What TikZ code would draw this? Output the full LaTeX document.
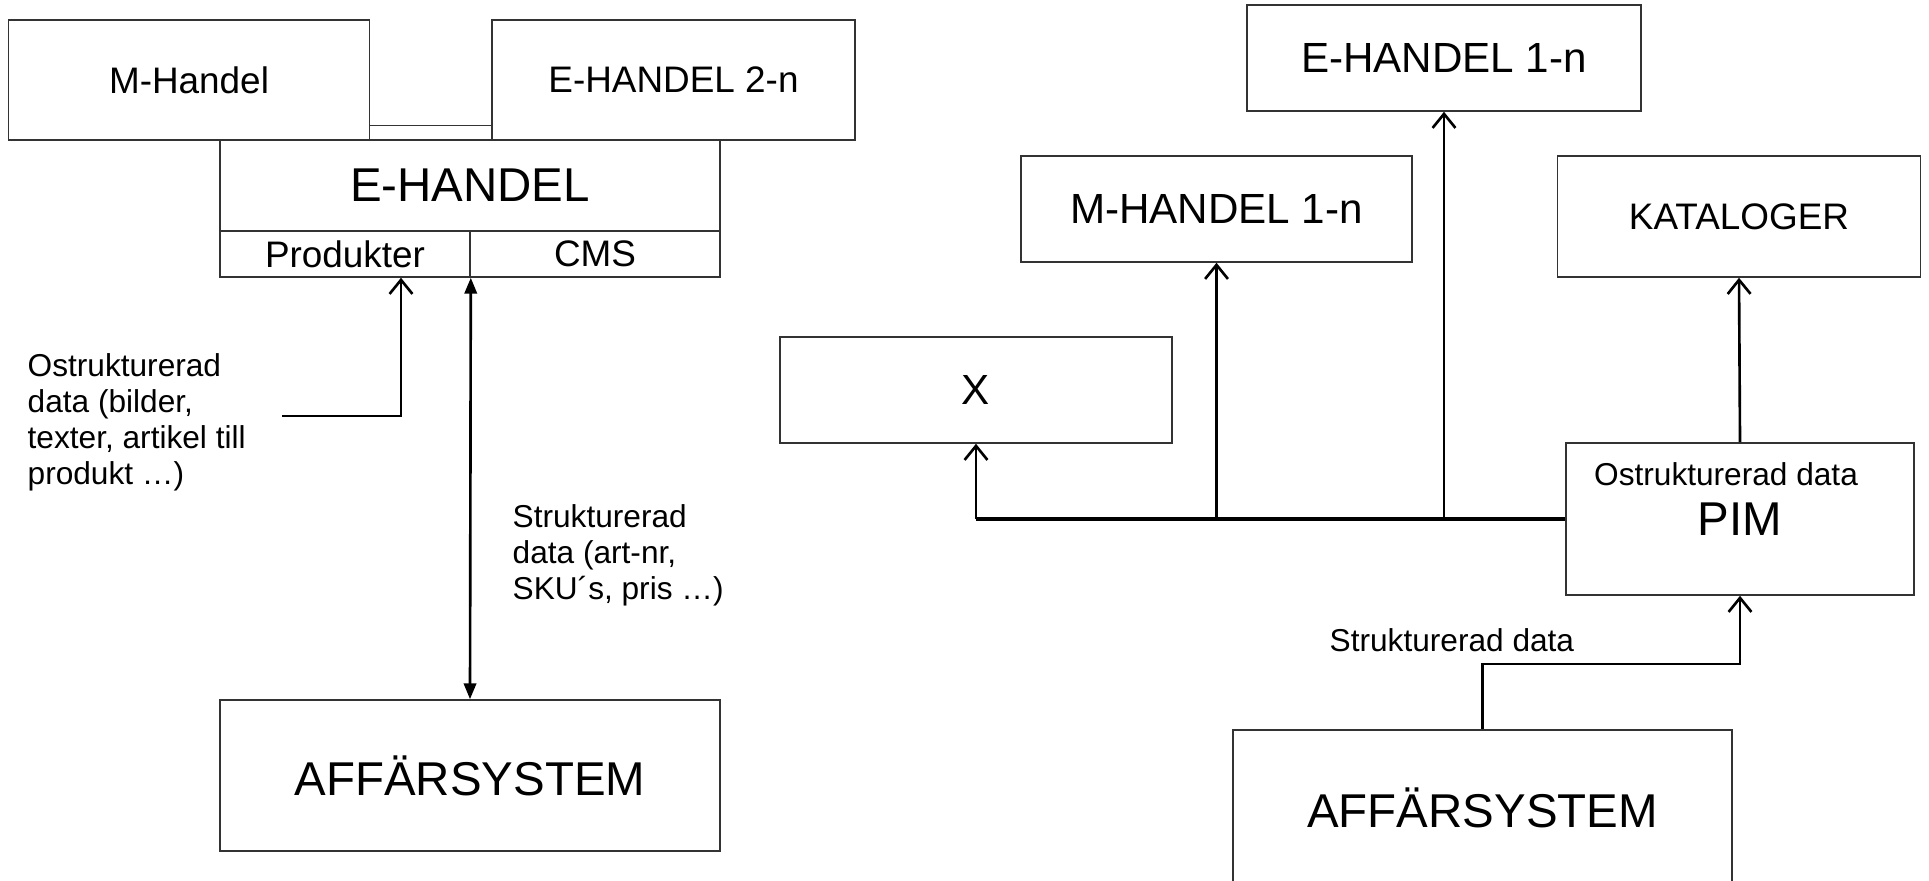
\documentclass[tikz,border=0pt]{standalone}
\usepackage{fontspec}
\setmainfont{Liberation Sans}
\usetikzlibrary{arrows.meta,positioning}

\tikzset{
  box/.style={draw=black!80, line width=0.45pt, rectangle, inner sep=0pt, align=center},
  flow/.style={line width=0.75pt, -{Straight Barb[length=4pt,width=6.5pt]}},
  sync/.style={line width=0.75pt, {Triangle[length=4.5pt,width=3.5pt]}-{Triangle[length=4.5pt,width=3.5pt]}},
  bus/.style={line width=1.1pt},
  note/.style={font=\fontsize{9}{10.2}\selectfont, align=left, inner sep=0pt},
  big/.style={font=\fontsize{13.5}{16}\selectfont},
  mid/.style={font=\fontsize{12}{14}\selectfont},
  norm/.style={font=\fontsize{10.5}{12.5}\selectfont},
}

\begin{document}
\begin{tikzpicture}
\clip (0,0) rectangle (19.29,8.80);
% left: e-handel
\node[box, norm, minimum width=3.61cm, minimum height=1.20cm] (mh) at (1.89,8.00) {M-Handel};
\node[box, norm, minimum width=3.63cm, minimum height=1.20cm] (eh2) at (6.735,8.00) {E-HANDEL 2-n};
\node[box, big, minimum width=5.00cm, minimum height=0.91cm] (eh) at (4.70,6.945) {E-HANDEL};
\node[box, norm, minimum width=2.50cm, minimum height=0.46cm] (prod) at (3.45,6.26) {Produkter};
\node[box, norm, minimum width=2.50cm, minimum height=0.46cm] (cms) at (5.95,6.26) {CMS};
\node[box, big, minimum width=5.00cm, minimum height=1.51cm] (aff) at (4.70,1.045) {AFFÄRSYSTEM};
\node[note, anchor=north west] (ostr) at (0.27,5.27) {Ostrukturerad\\data (bilder,\\texter, artikel till\\produkt …)};
\node[note, anchor=north west] (str) at (5.12,3.76) {Strukturerad\\data (art-nr,\\SKU´s, pris …)};
\coordinate (lk) at (4.70,7.545);
\coordinate (ostart) at (2.82,4.64);
\draw[draw=black!80, line width=0.45pt] (mh.east |- lk) -- (eh2.west |- lk);
\draw[flow] (ostart) -| ([xshift=0.56cm]prod.south);
\draw[sync] (prod.south east) -- (aff.north);
% right: pim
\node[box, mid, minimum width=3.94cm, minimum height=1.06cm] (eh1) at (14.44,8.22) {E-HANDEL 1-n};
\node[box, mid, minimum width=3.91cm, minimum height=1.06cm] (mh1) at (12.165,6.71) {M-HANDEL 1-n};
\node[box, norm, minimum width=3.63cm, minimum height=1.21cm] (kat) at (17.39,6.635) {KATALOGER};
\node[box, mid, minimum width=3.92cm, minimum height=1.06cm] (xb) at (9.76,4.90) {X};
\node[box, big, minimum width=3.48cm, minimum height=1.52cm] (pim) at (17.40,3.61) {PIM};
\node[note] (pimnote) at (17.26,4.06) {Ostrukturerad data};
\node[box, big, minimum width=4.99cm, minimum height=1.55cm] (aff2) at (14.825,0.725) {AFFÄRSYSTEM};
\node[note, anchor=base west] (strr) at (13.29,2.29) {Strukturerad data};
\coordinate (bend) at (14.825,2.16);
\draw[bus] (pim.west) -- (xb |- pim.west);
\draw[flow] (xb |- pim.west) -- (xb.south);
\draw[flow] (mh1 |- pim.west) -- (mh1.south);
\draw[flow] (eh1 |- pim.west) -- (eh1.south);
\draw[flow] (pim.north) -- (kat.south);
\draw[flow] (aff2.north) -- (bend) -| (pim.south);
\end{tikzpicture}
\end{document}
